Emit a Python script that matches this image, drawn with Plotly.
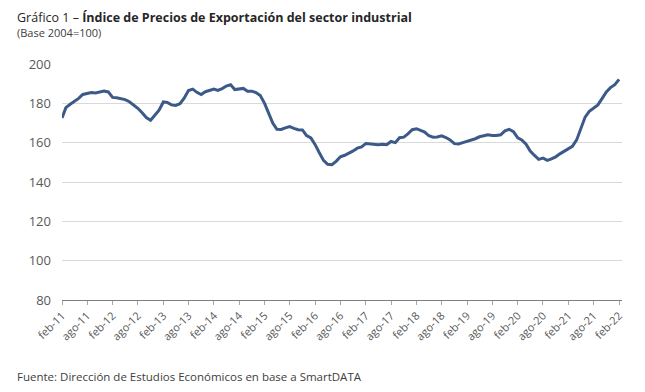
import pandas as pd
import plotly.graph_objects as go

# Monthly index, feb-2011 .. feb-2022
months = pd.date_range("2011-02-01", "2022-02-01", freq="MS")
values = [
    172.5, 177.8, 179.5, 181.0, 182.5, 184.5, 184.9, 185.5, 185.3, 185.8, 186.2, 185.8,
    183.0, 182.8, 182.3, 181.9, 180.8, 179.4, 177.5, 175.2, 172.8, 171.4, 173.8, 176.5,
    180.7, 180.5, 179.2, 178.9, 179.8, 182.6, 186.5, 187.2, 185.6, 184.5, 185.9, 186.6,
    187.2, 186.6, 187.5, 188.8, 189.5, 187.0, 187.3, 187.6, 186.2, 186.2, 185.5, 184.0,
    180.0, 175.0, 170.0, 166.8, 166.7, 167.5, 168.2, 167.3, 166.6, 166.5, 163.6, 162.4,
    159.0, 155.0, 151.0, 149.0, 148.8, 150.5, 152.8, 153.6, 154.5, 155.8, 157.2, 157.8,
    159.6, 159.3, 159.0, 158.9, 159.2, 159.0, 160.6, 160.0, 162.5, 162.8, 164.5, 166.6,
    167.1, 166.2, 165.4, 163.5, 162.8, 162.9, 163.5, 162.6, 161.4, 159.5, 159.3, 160.0,
    160.6, 161.4, 162.0, 163.0, 163.5, 164.0, 163.7, 163.6, 164.0, 166.0, 166.8, 165.6,
    162.4, 161.4, 159.2, 155.7, 153.5, 151.5, 152.2, 151.0, 151.8, 152.8, 154.3, 155.6,
    156.6, 158.1, 161.4, 167.3, 173.0, 175.9, 177.5, 179.2, 182.4, 185.8, 188.0, 189.5,
    192.2,
]

tick_dates = pd.date_range("2011-02-01", "2022-02-01", freq="6MS")
tick_labels = []
for d in tick_dates:
    tick_labels.append(("feb" if d.month == 2 else "ago") + "-" + d.strftime("%y"))

y_ticks = [80, 100, 120, 140, 160, 180, 200]

title_text = "Gráfico 1 – <b>Índice de Precios de Exportación del sector industrial</b>"
subtitle_text = "(Base 2004=100)"
source_text = "Fuente: Dirección de Estudios Económicos en base a SmartDATA"

font_family = "Open Sans, Noto Sans, sans-serif"

# The page body has an 8px margin, so the figure is drawn at (8, 8).
W, H = 637, 384
ML, MR, MT, MB = 54, 23, 56, 92
OFF = 8

fig = go.Figure()
fig.add_trace(go.Scatter(
    x=months, y=values, mode="lines",
    line=dict(color="#3b5a87", width=3),
    showlegend=False, hoverinfo="x+y",
))

plot_w = W - ML - MR
plot_h = H - MT - MB


def px_to_paper(px, py):
    fx = px - OFF
    fy = H - (py - OFF)
    return (fx - ML) / plot_w, (fy - MB) / plot_h


tx, ty = px_to_paper(15, 17)
sx, sy = px_to_paper(15, 33)
fx_, fy_ = px_to_paper(15, 376)

fig.update_layout(
    width=W, height=H,
    margin=dict(l=ML, r=MR, t=MT, b=MB),
    paper_bgcolor="white", plot_bgcolor="white",
    font=dict(family=font_family, color="#595959"),
    xaxis=dict(
        type="date",
        range=[pd.Timestamp("2011-02-01"), pd.Timestamp("2022-02-22")],
        tickvals=list(tick_dates), ticktext=tick_labels,
        tickangle=-45, tickfont=dict(size=11, color="#595959"),
        showgrid=False, showline=True, linecolor="#7f7f7f", linewidth=1,
        ticks="outside", ticklen=4, tickcolor="#a6a6a6",
        zeroline=False, automargin=False,
    ),
    yaxis=dict(
        range=[80, 200], tickvals=y_ticks,
        tickfont=dict(size=13, color="#595959"),
        showgrid=True, gridcolor="#d9d9d9", gridwidth=1,
        zeroline=False, showline=False, ticks="", ticklabelstandoff=10,
        automargin=False,
    ),
    annotations=[
        dict(text=title_text, x=tx, y=ty, xref="paper", yref="paper",
             showarrow=False, xanchor="left", yanchor="middle",
             font=dict(size=12.5, color="#262626", family=font_family)),
        dict(text=subtitle_text, x=sx, y=sy, xref="paper", yref="paper",
             showarrow=False, xanchor="left", yanchor="middle",
             font=dict(size=11, color="#404040", family=font_family)),
        dict(text=source_text, x=fx_, y=fy_, xref="paper", yref="paper",
             showarrow=False, xanchor="left", yanchor="middle",
             font=dict(size=11.5, color="#404040", family=font_family)),
    ],
)

fig.write_html("out.html")
